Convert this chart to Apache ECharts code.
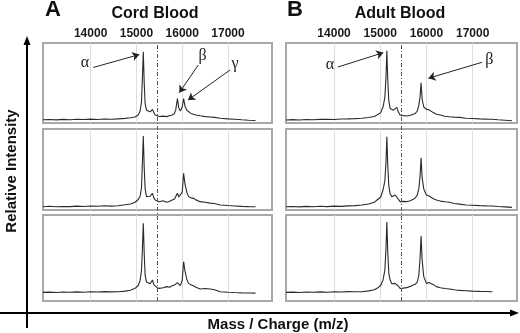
<!DOCTYPE html>
<html>
<head>
<meta charset="utf-8">
<script src="https://cdn.jsdelivr.net/npm/echarts@6/dist/echarts.min.js"></script>
<style>
    html, body { margin: 0; padding: 0; background: #fff; }
    #massChart { width: 520px; height: 333px; }
</style>
</head>
<body>
<div id="massChart"></div>
<script>
    const tickValues = [14000, 15000, 16000, 17000]
    const splitMass = 15460
    const massMin = 12960
    const massMax = 17960

    // cord blood (panel A), intensity in % of each row box
    const mzCord = [12960, 13100, 13250, 13400, 13550, 13700, 13850, 14000, 14150, 14300, 14450, 14600, 14750, 14870,
        14970, 15040, 15080, 15110, 15130, 15150, 15170, 15190, 15220, 15260, 15300, 15350, 15380, 15410, 15450, 15500,
        15580, 15660, 15720, 15780, 15830, 15860, 15895, 15925, 15960, 16000, 16030, 16060, 16100, 16140, 16190, 16245,
        16300, 16390, 16500, 16610, 16650, 16700, 16830, 17000, 17150, 17300, 17450, 17600]
    const cordRow1 = [4.0, 4.4, 3.9, 4.5, 4.1, 4.7, 4.3, 4.9, 4.4, 5.0, 4.6, 5.2, 5.8, 6.5,
        7.5, 10, 15, 26, 55, 89, 50, 24, 16, 14.5, 14, 17, 13, 10, 8.8, 8.2,
        8.6, 8.0, 9.0, 10, 12, 17, 30.4, 19, 15, 20, 30.4, 21, 16, 13.5, 12, 11,
        10, 9, 8, 7.5, 7.2, 7, 6, 5.2, 4.6, 4.0, 3.5, 3.2]
    const cordRow2 = [4.1, 4.6, 4.0, 4.4, 4.2, 4.8, 4.4, 5.0, 4.6, 5.2, 4.8, 5.3, 6.5, 7.5,
        9.6, 13, 17, 27, 58, 91.4, 52, 26, 16.5, 16, 17, 20.6, 15, 12.3, 11, 10.3,
        11.5, 9.5, 10.5, 12.3, 13.5, 15, 20.6, 16, 14.4, 22, 45.3, 32, 22, 16.5, 15, 14.4,
        12.5, 10.3, 9.5, 8.5, 9, 8, 6.2, 5.5, 5, 4.5, 4.2, 4.0]
    const cordRow3 = [10, 10.3, 9.8, 10.4, 10.1, 10.6, 10.2, 10.7, 10.4, 10.9, 10.6, 10.8, 11.5, 12.5,
        14.7, 18, 24, 35, 60, 90.3, 55, 30, 22, 20.5, 20, 24.4, 19, 16.7, 15.5, 14.7,
        15.5, 16.7, 16, 17.8, 18.5, 19, 21.3, 19, 17.8, 24, 45.7, 35, 25, 20.5, 19, 17.8,
        16, 14, 14.5, 14, 13.5, 13, 10.8, 10.2, 9.8, 9.5, 9.3, 9.2]

    // adult blood (panel B)
    const mzAdult = [12960, 13100, 13250, 13400, 13550, 13700, 13850, 14000, 14150, 14300, 14450, 14600, 14750, 14870,
        14930, 15010, 15060, 15100, 15125, 15143, 15162, 15185, 15214, 15250, 15285, 15321, 15357, 15390, 15428, 15500,
        15571, 15650, 15713, 15760, 15800, 15835, 15862, 15884, 15906, 15942, 16000, 16050, 16092, 16150, 16214, 16300,
        16400, 16499, 16600, 16713, 16856, 17000, 17150, 17300, 17426, 17550, 17700, 17850]
    const adultRow1 = [3.8, 4.2, 3.7, 4.3, 4.0, 4.5, 4.6, 4.4, 5.0, 5.2, 5.5, 5.9, 6.8, 8.2,
        10, 13, 20, 32, 58, 90.4, 55, 28, 18, 16.5, 16, 17.5, 19.6, 14, 10, 9.2,
        8.75, 9.6, 11, 12, 15, 22, 33, 50.4, 30, 20, 17, 16.5, 16, 13, 11, 10,
        8.5, 7.8, 7.3, 7, 6, 5.6, 5.1, 4.8, 4.6, 4, 3.5, 2.9]
    const adultRow2 = [4.1, 4.4, 3.9, 4.5, 4.1, 4.6, 4.2, 4.8, 4.5, 5.1, 5.4, 6.2, 7.5, 9.5,
        12.3, 16, 24.7, 36, 60, 90.5, 56, 30, 20, 16.5, 17.5, 18.5, 17.3, 13.5, 10.3, 10.6,
        10.3, 11.5, 13.2, 15, 18.5, 26, 42, 64.6, 40, 26, 18.5, 17.5, 16.4, 14, 12.3, 11,
        10.2, 9.5, 8, 7.2, 6.2, 5.8, 5.4, 5.1, 4.9, 4.3, 3.8, 3.3]
    const adultRow3 = [10, 10.3, 9.8, 10.5, 10.1, 10.6, 10.2, 10.8, 10.4, 10.9, 10.7, 10.8, 11.8, 13,
        14.7, 18, 24.4, 36, 62, 91.9, 58, 32, 24.4, 20, 18.6, 20.5, 22.4, 17.5, 14.7, 15,
        15.5, 17, 18.6, 19.5, 22, 30, 50, 75.6, 48, 28.3, 20.5, 21.5, 22.4, 19, 16.7, 15.5,
        14.5, 14, 13, 12.3, 12, 11.5, 11.2, 11, 10.8, null, null, null]

    // peak labels and arrows on the top row, [m/z, %]
    const cordLabels = [['α', 13877, 75], ['β', 16442, 83.5], ['γ', 17152, 74.6]]
    const cordArrows = [[14058, 69.4, 15063, 85.6], [16351, 72.5, 15936, 37.9], [17043, 66.2, 16126, 28.7]]
    const adultLabels = [['α', 13912, 72.5], ['β', 17360, 78.7]]
    const adultArrows = [[14085, 70, 15066, 87.9], [17205, 75.9, 16043, 55.9]]

    const panels = [
        {left: 43, width: 229, mz: mzCord, rows: [cordRow1, cordRow2, cordRow3], labels: cordLabels, arrows: cordArrows},
        {left: 286, width: 231, mz: mzAdult, rows: [adultRow1, adultRow2, adultRow3], labels: adultLabels, arrows: adultArrows}
    ]
    const rowBoxes = [{top: 43, height: 80}, {top: 129, height: 81}, {top: 215, height: 86}]
    const boldFont = 'Liberation Sans, Arial, sans-serif'

    let grid = []
    let xAxis = []
    let yAxis = []
    let series = []

    panels.forEach(panel => {
        panel.rows.forEach((vals, r) => {
            const idx = grid.length
            grid.push({
                left: panel.left,
                width: panel.width,
                top: rowBoxes[r].top,
                height: rowBoxes[r].height,
                show: true,
                borderColor: '#a8a8a8',
                borderWidth: 2
            })
            xAxis.push({
                gridIndex: idx,
                type: 'value',
                position: 'top',
                min: massMin,
                max: massMax,
                axisLine: {show: false},
                axisTick: {show: false},
                splitLine: {show: false},
                axisLabel: {
                    show: r === 0,
                    customValues: tickValues,
                    formatter: v => String(v),
                    margin: 3,
                    fontFamily: boldFont,
                    fontWeight: 'bold',
                    fontSize: 12,
                    color: '#1a1a1a'
                }
            })
            yAxis.push({gridIndex: idx, type: 'value', min: 0, max: 100, show: false})
            series.push({
                type: 'line',
                xAxisIndex: idx,
                yAxisIndex: idx,
                data: panel.mz.map((m, k) => [m, vals[k]]),
                symbol: 'none',
                silent: true,
                lineStyle: {color: '#2a2a2a', width: 1.1},
                markLine: {
                    silent: true,
                    z: 1,
                    symbol: 'none',
                    label: {show: false},
                    lineStyle: {color: '#dedede', width: 1, type: 'solid'},
                    data: tickValues.map(v => ({xAxis: v}))
                }
            })
            if (r === 0) {
                series.push({
                    type: 'line',
                    xAxisIndex: idx,
                    yAxisIndex: idx,
                    data: [],
                    silent: true,
                    markLine: {
                        silent: true,
                        symbol: ['none', 'arrow'],
                        symbolSize: 7,
                        label: {show: false},
                        lineStyle: {color: '#222', width: 1, type: 'solid'},
                        data: panel.arrows.map(a => [{coord: [a[0], a[1]]}, {coord: [a[2], a[3]]}])
                    },
                    markPoint: {
                        silent: true,
                        symbol: 'circle',
                        symbolSize: 0,
                        label: {
                            show: true,
                            position: 'inside',
                            formatter: '{b}',
                            fontFamily: 'Liberation Serif, Times New Roman, serif',
                            fontSize: 16,
                            color: '#222'
                        },
                        data: panel.labels.map(l => ({name: l[0], coord: [l[1], l[2]]}))
                    }
                })
            }
        })

        // full height grid for the dash-dot separator
        const idx = grid.length
        grid.push({left: panel.left, width: panel.width, top: 43, height: 258})
        xAxis.push({gridIndex: idx, type: 'value', min: massMin, max: massMax, show: false})
        yAxis.push({gridIndex: idx, type: 'value', min: 0, max: 1, show: false})
        series.push({
            type: 'line',
            xAxisIndex: idx,
            yAxisIndex: idx,
            data: [],
            silent: true,
            markLine: {
                silent: true,
                symbol: 'none',
                label: {show: false},
                lineStyle: {color: '#555', width: 1, type: [4, 2, 1, 2]},
                data: [{xAxis: splitMass}]
            }
        })
    })

    const textStyle = (text, size) => ({
        text: text,
        font: 'bold ' + size + 'px ' + boldFont,
        fill: '#111',
        textAlign: 'center',
        textVerticalAlign: 'middle'
    })

    let option = {
        animation: false,
        grid: grid,
        xAxis: xAxis,
        yAxis: yAxis,
        series: series,
        graphic: [
            {type: 'text', x: 53, y: 10, style: textStyle('A', 22)},
            {type: 'text', x: 155, y: 14, style: textStyle('Cord Blood', 16)},
            {type: 'text', x: 295, y: 10, style: textStyle('B', 22)},
            {type: 'text', x: 400, y: 14, style: textStyle('Adult Blood', 16)},
            {type: 'text', x: 12, y: 171, rotation: Math.PI / 2, style: textStyle('Relative Intensity', 15)},
            {type: 'text', x: 278, y: 325, style: textStyle('Mass / Charge (m/z)', 15)},
            {type: 'line', shape: {x1: 27, y1: 328, x2: 27, y2: 42}, style: {stroke: '#000', lineWidth: 2}},
            {type: 'polygon', shape: {points: [[27, 36], [23.5, 45], [30.5, 45]]}, style: {fill: '#000'}},
            {type: 'line', shape: {x1: 0, y1: 313, x2: 511, y2: 313}, style: {stroke: '#000', lineWidth: 2}},
            {type: 'polygon', shape: {points: [[519, 313], [510, 309.5], [510, 316.5]]}, style: {fill: '#000'}}
        ]
    }

    const myChart = echarts.init(document.getElementById('massChart'))
    myChart.setOption(option)
</script>
</body>
</html>
